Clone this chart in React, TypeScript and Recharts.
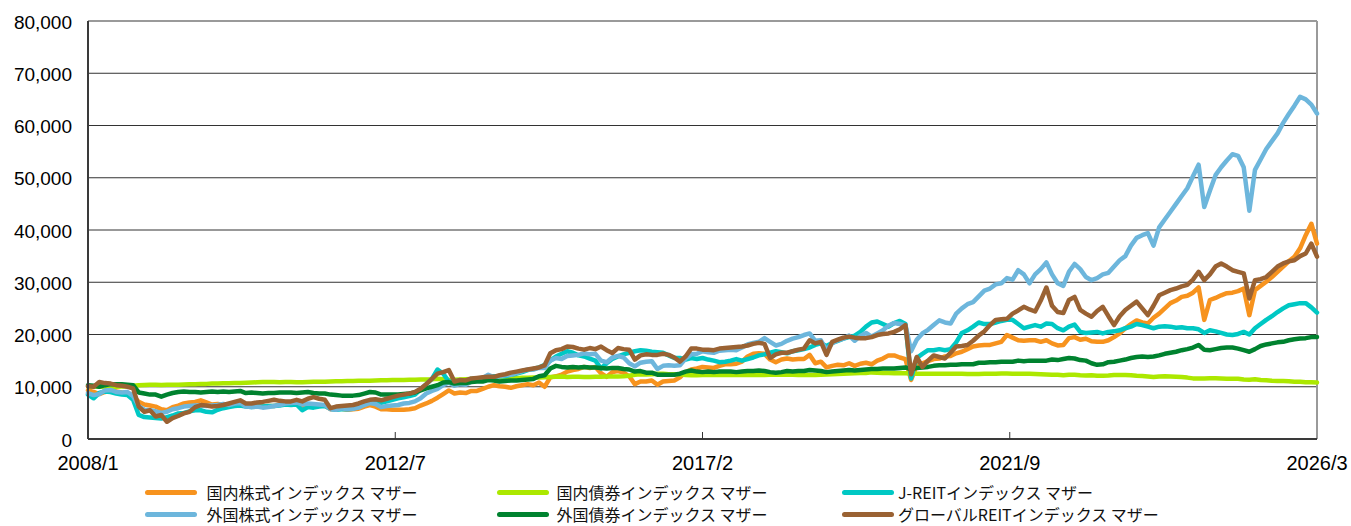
import React from 'react';
import { LineChart, Line, XAxis, YAxis, CartesianGrid, ReferenceLine } from 'recharts';

// Monthly values, 2008/1 .. 2026/3 (219 months)
const domesticStock = [
  9300, 9000, 8600, 9000, 9300, 9100, 8900, 8800, 8300, 7100, 6600, 6400,
  6200, 5700, 5500, 6100, 6400, 6800, 7000, 7100, 7400, 7000, 6600, 6700,
  6500, 6600, 6900, 7000, 6500, 6300, 6400, 6200, 6300, 6300, 6600, 6800,
  6900, 7000, 5900, 6300, 6300, 6400, 6400, 5700, 5800, 5800, 5600, 5700,
  5800, 6200, 6500, 6200, 5700, 5700, 5600, 5600, 5600, 5700, 5900, 6400,
  6800, 7300, 7900, 8600, 9300, 8700, 8900, 8800, 9200, 9200, 9600, 10000,
  10300, 10100, 10000, 9800, 10100, 10300, 10500, 10300, 10800, 10000, 11800, 12000,
  12300, 12900, 13200, 13400, 13800, 13600, 13800, 12600, 11900, 12800, 13000, 12700,
  12000, 10500, 11000, 11000, 11200, 10400, 11000, 11100, 11200, 11800, 12800, 13300,
  13500, 13800, 13700, 13600, 14000, 14300, 14300, 14400, 14800, 15800, 16300, 16400,
  16300, 15200, 14700, 15200, 15400, 15200, 15300, 15300, 16100, 14500, 14800, 13700,
  14000, 14200, 14100, 14500, 14000, 14400, 14600, 14300, 15000, 15400, 16000, 16000,
  15600, 15300, 11300, 14100, 14500, 14900, 15300, 15400, 15800, 15900, 16400, 16700,
  17200, 17700, 17900, 18000, 18000, 18300, 18600, 19900, 19400, 18900, 18800, 18900,
  18900, 18600, 18900, 18300, 17900, 18000, 19300, 19500, 19000, 19200, 18700, 18600,
  18600, 18900, 19500, 20200, 21200, 22000, 22700, 22300, 22100, 23200, 24000, 25000,
  26000, 26500, 27200, 27400, 28000, 29000, 22800, 26600, 27000, 27500, 27900, 28000,
  28300, 28800, 23700, 28500, 29300, 30100, 31000, 32000, 33000, 34000, 34900, 36500,
  39000, 41200, 37400,
];

const domesticBond = [
  10000, 10050, 10050, 10000, 9950, 10000, 10050, 10100, 10200, 10300, 10350, 10400,
  10400, 10350, 10400, 10400, 10400, 10450, 10500, 10500, 10550, 10550, 10600, 10600,
  10650, 10650, 10700, 10700, 10750, 10800, 10850, 10900, 10900, 10900, 10850, 10900,
  10900, 10850, 10850, 10900, 10950, 10950, 10950, 11000, 11050, 11050, 11100, 11100,
  11150, 11150, 11150, 11200, 11250, 11250, 11300, 11300, 11300, 11350, 11350, 11400,
  11400, 11450, 11550, 11450, 11300, 11350, 11400, 11450, 11500, 11550, 11550, 11550,
  11600, 11600, 11600, 11650, 11650, 11700, 11700, 11750, 11750, 11800, 11850, 11900,
  11950, 11850, 11900, 11900, 11850, 11850, 11900, 11900, 11950, 11950, 11950, 12000,
  12100, 12300, 12400, 12350, 12400, 12500, 12500, 12400, 12400, 12400, 12250, 12200,
  12200, 12250, 12250, 12300, 12250, 12250, 12250, 12250, 12250, 12250, 12250, 12250,
  12250, 12300, 12300, 12300, 12300, 12300, 12250, 12250, 12250, 12250, 12300, 12350,
  12400, 12450, 12500, 12550, 12600, 12650, 12650, 12750, 12700, 12650, 12650, 12600,
  12650, 12600, 12550, 12500, 12500, 12500, 12500, 12500, 12500, 12500, 12500, 12500,
  12450, 12450, 12450, 12500, 12500, 12500, 12550, 12550, 12500, 12500, 12500, 12500,
  12450, 12400, 12350, 12300, 12300, 12200, 12300, 12300, 12200, 12150, 12200, 12100,
  12100, 12150, 12250, 12250, 12250, 12200, 12100, 12050, 11950, 11850, 11950, 12000,
  11950, 11900, 11850, 11750, 11600, 11600, 11600, 11650, 11650, 11600, 11550, 11550,
  11550, 11400, 11350, 11450, 11300, 11250, 11150, 11100, 11100, 11050, 10950, 10950,
  10850, 10850, 10800,
];

const jReit = [
  8500, 7800, 8800, 9100, 9000, 8700, 8500, 8400, 7500, 4600, 4200, 4100,
  4000, 3900, 4200, 4500, 4900, 5000, 5300, 5500, 5500, 5200, 5100, 5600,
  5900, 6100, 6300, 6400, 6200, 6100, 6200, 6200, 6300, 6300, 6400, 6600,
  6500, 6600, 5500, 6100, 6000, 6200, 6300, 5800, 5600, 5700, 5700, 5800,
  6200, 6800, 7000, 7100, 6900, 7200, 7500, 7800, 8000, 8200, 8500, 9500,
  10500, 11500, 13300, 12500, 11000, 11000, 11200, 11000, 11500, 11600, 11600, 11900,
  12000, 12000, 12000, 12300, 12500, 12800, 13200, 13400, 13700, 14200, 15000, 15800,
  16300, 16800, 16500, 16000, 15800, 15400, 15000, 13500, 14500, 15300, 15800, 16200,
  16500, 16800, 17000, 16900, 16700, 16600, 16500, 16000, 15500, 15500, 15200, 15500,
  15300, 15500, 15200, 15000, 14700, 14800, 15000, 15300, 15000, 15300, 15600, 16000,
  16200, 16500, 16800, 16600, 16400, 16800, 17000, 17200, 17500, 18000, 18300, 17800,
  18400, 18800, 19200, 19500, 19800, 20500, 21500, 22300, 22500, 22000, 21500, 22200,
  22600, 22000, 11600, 15500, 16300, 17000, 17000, 17200, 17000, 17200, 18500, 20300,
  20800, 21500, 22300, 22000, 22000, 22300, 22600, 22800, 22800, 22000, 21200, 21500,
  21800, 21500, 22100, 22000, 21200, 20800, 21500, 21900, 20500, 20300, 20400, 20500,
  20200, 20500, 20600, 20800, 21200, 21500, 22000, 21800, 21500, 21200, 21500, 21600,
  21500, 21300, 21400, 21200, 21200, 21000, 20300, 20800, 20600, 20300, 20000, 19900,
  20100, 20500, 20000, 21200, 22000, 22800, 23500, 24300, 25000, 25600, 25800, 26000,
  26000, 25200, 24200,
];

const foreignStock = [
  8800, 8400, 8600, 9300, 9400, 9000, 8900, 9000, 8200, 6300, 5600, 5500,
  5300, 5000, 5200, 5700, 5900, 6200, 6300, 6400, 6400, 6300, 6400, 6500,
  6700, 6500, 6800, 6900, 6200, 6100, 6200, 6000, 6100, 6300, 6500, 6800,
  6900, 7000, 6600, 6800, 6700, 6600, 6500, 5700, 5600, 5900, 5700, 5800,
  6000, 6500, 6900, 6700, 6100, 6300, 6400, 6500, 6800, 6900, 7200, 7800,
  8700, 9200, 9600, 10300, 10800, 10200, 10500, 10400, 11000, 11300, 11700, 12300,
  11800, 12000, 12200, 12300, 12600, 13000, 13300, 13300, 13600, 13600, 15000, 15500,
  15300, 15900, 16000, 16100, 16400, 16200, 16300, 15000, 14700, 15600, 15900, 15600,
  14500, 13900, 14600, 14800, 14900, 13400, 14000, 14100, 14000, 14100, 15400, 16200,
  16300, 16800, 16600, 16500, 16900, 17000, 17100, 17000, 17500, 18100, 18400, 18600,
  19300, 18600, 17900, 18200, 18800, 19200, 19500, 19900, 20200, 18800, 18900, 17000,
  18300, 18900, 19200, 19800, 18800, 19700, 20300, 19600, 20200, 20800, 21700, 22200,
  22000, 21800, 16800, 19000, 20200, 20900, 21800, 22700, 22300, 22100, 24000, 25000,
  25800, 26200, 27300, 28400, 28800, 29600, 29800, 30800, 30500, 32300, 31500, 29800,
  31500, 32500, 33800, 31500, 29800, 29300, 32000, 33500, 32500, 31000, 30400, 30800,
  31500, 31800, 33000, 34200, 35000, 37000, 38500, 39000, 39400, 37000, 40500, 42000,
  43500, 45000, 46500, 48000, 50300, 52500, 44400, 47500, 50500, 52000, 53300, 54500,
  54200, 52000, 43700, 51500, 53500, 55500, 57000, 58500, 60500, 62200, 63800, 65500,
  65000, 64000, 62300,
];

const foreignBond = [
  10300, 10200, 10000, 10300, 10500, 10500, 10500, 10400, 10300, 8900, 8700, 8500,
  8500, 8100, 8500, 8800, 9000, 9100, 9000, 9000, 8900, 9000, 9100, 9000,
  9100, 9000, 9100, 9200, 8800, 8900, 8800, 8700, 8800, 8800, 8900, 8900,
  8900, 8800, 8900, 9000, 8800, 8700, 8700, 8500, 8400, 8300, 8300, 8300,
  8400, 8700, 9000, 8900, 8500, 8500, 8500, 8500, 8600, 8700, 8900, 9300,
  9700, 10000, 10300, 10800, 10900, 10600, 10700, 10700, 10900, 11000, 11000, 11300,
  11200, 11000, 11100, 11200, 11200, 11300, 11400, 11500, 12000, 12200, 13500, 14000,
  13800, 13700, 13800, 13700, 13800, 13700, 13700, 13600, 13500, 13600, 13600, 13400,
  13300, 12900, 13000, 12700, 12700, 12300, 12300, 12300, 12300, 12500, 12900, 13100,
  12900, 12800, 12900, 12800, 12900, 12900, 12900, 12800, 12900, 13000, 13000, 13100,
  13000, 12800, 12700, 12800, 13000, 12900, 13000, 13000, 13200, 13100, 13000, 12800,
  12900, 13000, 13100, 13200, 13100, 13200, 13300, 13400, 13400, 13500, 13500, 13500,
  13600, 13700, 13300, 13600, 13700, 13800, 14000, 14100, 14100, 14200, 14200, 14300,
  14300, 14300, 14600, 14600, 14700, 14700, 14800, 14800, 14800, 15000, 14900, 15000,
  15000, 15000, 15000, 15200, 15100, 15300, 15500, 15400, 15100, 15000, 14500, 14200,
  14300, 14700, 14800, 15000, 15200, 15500, 15700, 15800, 15700, 15800, 16000, 16300,
  16500, 16700, 17000, 17200, 17500, 18000, 17100, 17000, 17200, 17400, 17500, 17500,
  17300, 17000, 16700, 17200, 17800, 18100, 18300, 18500, 18600, 18900, 19100, 19250,
  19300, 19500, 19500,
];

const globalReit = [
  10100, 10000, 10900, 10700, 10600, 10300, 10200, 10000, 9700, 6200, 5200, 5500,
  4300, 4600, 3300, 4000, 4400, 4900, 5200, 6100, 6500, 6400, 6200, 6300,
  6500, 6800, 7100, 7400, 6800, 6800, 7000, 7100, 7300, 7500, 7300, 7200,
  7200, 7500, 7200, 7700, 8000, 7700, 7500, 5900, 6200, 6300, 6400, 6500,
  6800, 7200, 7500, 7600, 7400, 7700, 8000, 8300, 8500, 8700, 9000, 9600,
  10500, 11500, 12500, 12800, 13200, 11000, 11300, 11200, 11600, 11700, 11800, 11900,
  11900, 12200, 12400, 12700, 12900, 13100, 13300, 13500, 13700, 14100, 16400, 17000,
  17200, 17700, 17600, 17300, 17100, 17400, 17200, 17700, 17000, 16450, 17400, 17200,
  17100, 15200, 16000, 16200, 16100, 16100, 16300, 16100, 15600, 14800, 15800, 17300,
  17300, 17100, 17100, 17000, 17300, 17400, 17500, 17600, 17700, 17900, 18200, 18400,
  18200, 15500, 16200, 16500, 16500, 16800, 17100, 17300, 18900, 18300, 18600, 16100,
  18600, 19000, 19400, 19600, 19400, 19300, 19300, 19500, 19900, 20100, 20200, 20500,
  21000, 21800, 12400, 15700, 13800, 15000, 16000, 15700, 15400, 16500, 17700, 17800,
  18000, 18800, 19800, 20600, 21800, 22800, 22900, 23000, 24000, 24600, 25300, 24800,
  24400, 26500, 29000, 25500, 24300, 24100, 26600, 27200, 24700, 24000, 23400, 24500,
  25300, 23500, 21800, 23500, 24700, 25500, 26300, 25000, 23700, 25500, 27500, 28000,
  28500, 28800, 29200, 29500, 30500, 32000, 30400, 31500, 33000, 33600, 33000, 32300,
  32000, 31700, 26900, 30400, 30600, 31000, 32000, 33000, 33600, 34000, 34200, 35000,
  35500, 37400, 34900,
];

const seriesNames = [
  '国内株式インデックス マザー',
  '国内債券インデックス マザー',
  'J-REITインデックス マザー',
  '外国株式インデックス マザー',
  '外国債券インデックス マザー',
  'グローバルREITインデックス マザー',
];
const seriesColors = ['#F7931E', '#ACE800', '#00C8C4', '#6DB6DC', '#00822F', '#9A6233'];
const seriesValues = [domesticStock, domesticBond, jReit, foreignStock, foreignBond, globalReit];

const xTickValues = [0, 54.5, 109, 163.5, 218];
const xTickLabels = ['2008/1', '2012/7', '2017/2', '2021/9', '2026/3'];
const yTicks = [0, 10000, 20000, 30000, 40000, 50000, 60000, 70000, 80000];

const data = domesticStock.map((_, i) => {
  const row: Record<string, number> = { i };
  seriesValues.forEach((arr, k) => {
    row['s' + k] = arr[i];
  });
  return row;
});

const axisFont = '"Liberation Sans", Arial, sans-serif';
const jpFont = '"Noto Sans CJK JP", "Noto Sans", sans-serif';

const XTick = (props: any) => {
  const { x, y, payload } = props;
  const idx = xTickValues.indexOf(payload.value);
  const inner = idx > 0 && idx < xTickValues.length - 1;
  return (
    <g>
      {inner && <line x1={x} x2={x} y1={y - 7} y2={y} stroke="#333" strokeWidth={1} />}
      <text x={x} y={y + 24} textAnchor="middle" dominantBaseline="central" fontSize={20} fill="#000" fontFamily={axisFont}>
        {xTickLabels[idx]}
      </text>
    </g>
  );
};

const YTick = (props: any) => {
  const { x, y, payload } = props;
  return (
    <text x={x - 16} y={y + 1} textAnchor="end" dominantBaseline="central" fontSize={19} fill="#000" fontFamily={axisFont}>
      {Number(payload.value).toLocaleString('en-US')}
    </text>
  );
};

const legendCols = [
  { line: 145, text: 206.5 },
  { line: 497, text: 556.5 },
  { line: 842, text: 898 },
];
const legendRows = [492, 514];

export default function App() {
  return (
    <div style={{ position: 'relative', width: 1351, height: 526, overflow: 'hidden' }}>
      <style>{'html,body{margin:0;padding:0;}'}</style>
      <LineChart
        width={1351}
        height={500}
        data={data}
        margin={{ top: 21, right: 34, bottom: 0, left: 8 }}
      >
        <CartesianGrid vertical={false} stroke="#333" strokeWidth={1} />
        <XAxis
          dataKey="i"
          type="number"
          domain={[0, 218]}
          ticks={xTickValues}
          interval={0}
          height={61}
          tickSize={0}
          tickMargin={0}
          tickLine={false}
          axisLine={{ stroke: '#3a3a3a', strokeWidth: 2 }}
          tick={<XTick />}
        />
        <YAxis
          type="number"
          domain={[0, 80000]}
          ticks={yTicks}
          interval={0}
          width={80}
          tickSize={0}
          tickMargin={0}
          tickLine={false}
          axisLine={{ stroke: '#3a3a3a', strokeWidth: 2 }}
          tick={<YTick />}
        />
        <ReferenceLine y={80000} stroke="#9a9a9a" strokeWidth={2} />
        <ReferenceLine x={218} stroke="#9a9a9a" strokeWidth={2} />
        {seriesValues.map((_, k) => (
          <Line
            key={k}
            type="linear"
            dataKey={'s' + k}
            name={seriesNames[k]}
            stroke={seriesColors[k]}
            strokeWidth={4.5}
            strokeLinejoin="round"
            strokeLinecap="round"
            dot={false}
            activeDot={false}
            isAnimationActive={false}
          />
        ))}
      </LineChart>
      {seriesNames.map((name, k) => {
        const col = legendCols[k % 3];
        const rowY = legendRows[Math.floor(k / 3)];
        return (
          <React.Fragment key={k}>
            <div
              style={{
                position: 'absolute',
                left: col.line,
                top: rowY - 2.5,
                width: 52,
                height: 5,
                borderRadius: 3,
                background: seriesColors[k],
              }}
            />
            <div
              style={{
                position: 'absolute',
                left: col.text,
                top: rowY - 8,
                height: 16,
                lineHeight: '16px',
                fontSize: 16,
                fontFamily: jpFont,
                color: '#111',
                whiteSpace: 'nowrap',
              }}
            >
              {name}
            </div>
          </React.Fragment>
        );
      })}
    </div>
  );
}
